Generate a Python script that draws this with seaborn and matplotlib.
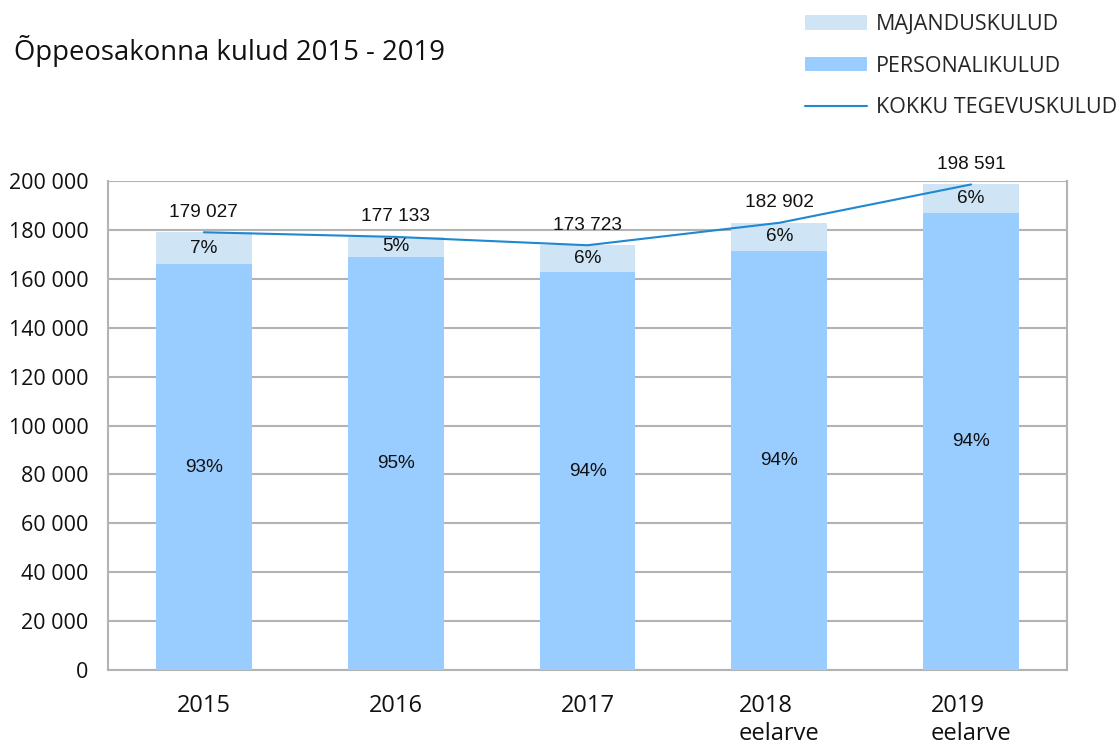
import numpy as np
import pandas as pd
import matplotlib
matplotlib.use("Agg")
import matplotlib.pyplot as plt
import seaborn as sns
from matplotlib.patches import Patch
from matplotlib.lines import Line2D
from matplotlib.ticker import FuncFormatter, FixedLocator

years = ["2015", "2016", "2017", "2018\neelarve", "2019\neelarve"]
totals = [179027, 177133, 173723, 182902, 198591]
personal = [165900, 168900, 162700, 171500, 187000]
pct_majandus = ["7%", "5%", "6%", "6%", "6%"]
pct_personal = ["93%", "95%", "94%", "94%", "94%"]

title = "Õppeosakonna kulud 2015 - 2019"
legend_labels = ["MAJANDUSKULUD", "PERSONALIKULUD", "KOKKU TEGEVUSKULUD"]

c_maj = "#CFE5F5"
c_pers = "#99CCFF"
c_line = "#1E88D2"
c_grid = "#B3B3B3"

sns.set_style("white")
plt.rcParams["font.family"] = ["Open Sans", "DejaVu Sans"]

df = pd.DataFrame({"year": years, "total": totals, "personal": personal})

fig = plt.figure(figsize=(11.18, 7.46), dpi=100)
ax = fig.add_axes([108 / 1118, 76 / 746, (1067 - 108) / 1118, (670 - 181) / 746])

sns.barplot(data=df, x="year", y="total", color=c_maj, width=0.5, ax=ax,
            saturation=1, edgecolor="none", linewidth=0, zorder=2)
sns.barplot(data=df, x="year", y="personal", color=c_pers, width=0.5, ax=ax,
            saturation=1, edgecolor="none", linewidth=0, zorder=3)

xs = np.arange(len(years))
ax.plot(xs, totals, color=c_line, lw=1.5, zorder=4)

lab_font = dict(family=["Liberation Sans", "DejaVu Sans"], fontsize=13.7, color="#111111")
for i in range(len(years)):
    ax.annotate(f"{totals[i]:,}".replace(",", " "), (xs[i], totals[i]),
                xytext=(0, 14.5), textcoords="offset points",
                ha="center", va="center", **lab_font, zorder=5)
    ax.text(xs[i], (totals[i] + personal[i]) / 2, pct_majandus[i],
            ha="center", va="center", **lab_font, zorder=5)
    ax.text(xs[i], personal[i] / 2, pct_personal[i],
            ha="center", va="center", **lab_font, zorder=5)

ax.set_xlim(-0.5, len(years) - 0.5)
ax.set_ylim(0, 200000)
ax.set_xlabel("")
ax.set_ylabel("")

ax.yaxis.set_major_locator(FixedLocator(np.arange(0, 200001, 20000)))
ax.yaxis.set_major_formatter(FuncFormatter(lambda v, p: f"{int(v):,}".replace(",", " ")))
ax.grid(axis="y", color=c_grid, lw=1.5, zorder=0)
ax.set_axisbelow(True)

ax.set_xticks(xs)
ax.set_xticklabels(years, fontsize=17, linespacing=1.22, multialignment="left")
ax.set_xticks(np.arange(-0.5, len(years)), minor=True)
ax.tick_params(axis="x", which="major", length=0, pad=17, colors="#111111")
ax.tick_params(axis="x", which="minor", length=10, width=1.5, color=c_grid)
ax.tick_params(axis="y", which="major", length=10, width=1.5, color=c_grid,
               labelsize=15.5, labelcolor="#111111", pad=4)

for s in ["left", "bottom", "right"]:
    ax.spines[s].set_visible(True)
    ax.spines[s].set_color(c_grid)
    ax.spines[s].set_linewidth(1.5)
ax.spines["top"].set_visible(False)

fig.text(14 / 1118, 1 - 51 / 746, title, fontsize=19.8, ha="left", va="center", color="#111111")

handles = [Patch(facecolor=c_maj, edgecolor="none"),
           Patch(facecolor=c_pers, edgecolor="none"),
           Line2D([0], [0], color=c_line, lw=1.5)]
fig.legend(handles, legend_labels, loc="upper right", bbox_to_anchor=(0.999, 0.981),
           frameon=False, fontsize=15.5, handlelength=2.85, handleheight=0.65,
           handletextpad=0.42, labelspacing=0.95, borderpad=0, borderaxespad=0)

fig.savefig("out.png", dpi=100)
